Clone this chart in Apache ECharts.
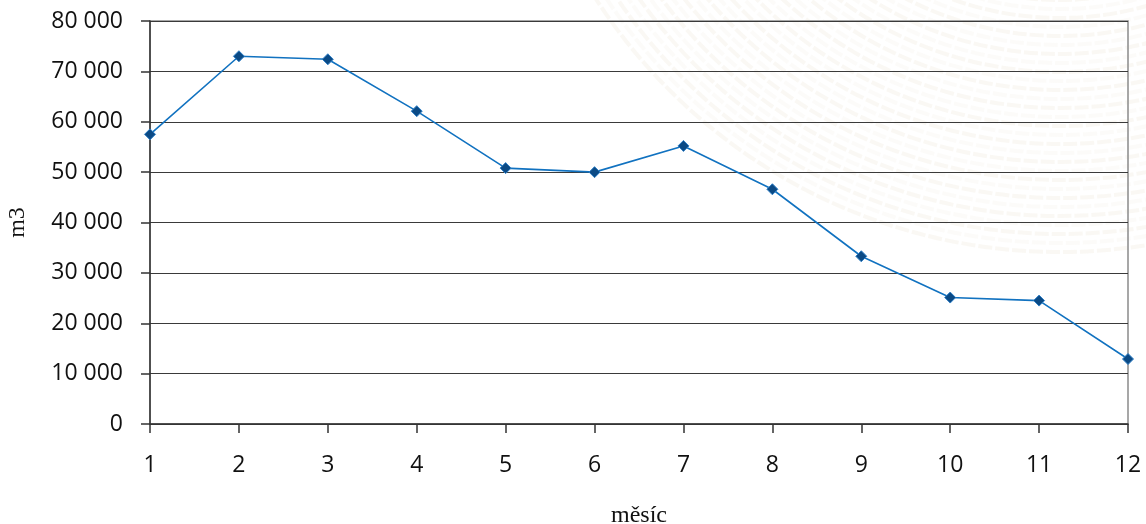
<!DOCTYPE html>
<html>
<head>
<meta charset="utf-8">
<script src="https://cdn.jsdelivr.net/npm/echarts@6/dist/echarts.min.js"></script>
<style>html,body{margin:0;padding:0;background:#fff;}#c{width:1146px;height:524px;}</style>
</head>
<body>
<div id="c"></div>
<script>
const categories = ['1','2','3','4','5','6','7','8','9','10','11','12'];
const values = [57500, 73000, 72400, 62100, 50800, 50000, 55200, 46600, 33300, 25100, 24500, 12900];
const yTicks = [0, 10000, 20000, 30000, 40000, 50000, 60000, 70000, 80000];

const chart = echarts.init(document.getElementById('c'));
const rings = [];
for (let r = 300; r <= 560; r += 9) {
  rings.push({
    type: 'circle', silent: true, z: -10,
    shape: { cx: 1060, cy: -300, r: r },
    style: { fill: 'none', stroke: 'rgba(220,205,175,' + (0.06 + 0.06 * ((r / 9) % 2)) + ')', lineWidth: 4, lineDash: [14, 3] }
  });
}
chart.setOption({
  animation: false,
  backgroundColor: '#fff',
  graphic: rings,
  grid: { left: 150, right: 18, top: 21, bottom: 100, outerBoundsMode: 'none', containLabel: false, show: true, borderColor: '#8a8a8a', borderWidth: 1.5, backgroundColor: 'transparent' },
  xAxis: {
    type: 'category', data: categories, boundaryGap: false,
    name: 'měsíc', nameLocation: 'middle', nameGap: 80,
    nameTextStyle: { fontFamily: 'Liberation Serif', fontSize: 24, color: '#111' },
    axisLine: { lineStyle: { color: '#333', width: 1.5 } },
    axisTick: { show: true, length: 9, lineStyle: { color: '#333', width: 1.5 } },
    axisLabel: { margin: 30, fontFamily: 'Open Sans', fontSize: 23, color: '#111' },
    splitLine: { show: false }
  },
  yAxis: {
    type: 'value', min: 0, max: 80000, interval: 10000,
    name: 'm3', nameLocation: 'middle', nameGap: 120, nameRotate: 90,
    nameTextStyle: { fontFamily: 'Liberation Serif', fontSize: 24, color: '#111' },
    axisLine: { show: true, lineStyle: { color: '#333', width: 1.5 } },
    axisTick: { show: true, inside: false, length: 9, lineStyle: { color: '#333', width: 1.5 } },
    axisLabel: {
      margin: 27, fontFamily: 'Open Sans', fontSize: 23, color: '#111',
      formatter: v => yTicks.includes(v) ? String(v).replace(/\B(?=(\d{3})+(?!\d))/g, ' ') : ''
    },
    splitLine: { show: true, lineStyle: { color: '#3a3a3a', width: 1.2 } }
  },
  series: [{
    type: 'line', data: values,
    symbol: 'diamond', symbolSize: 11,
    lineStyle: { color: '#1172c0', width: 1.6 },
    itemStyle: { color: '#0b4a85', borderColor: '#2f7fc6', borderWidth: 1 },
    z: 5
  }]
});
</script>
</body>
</html>
